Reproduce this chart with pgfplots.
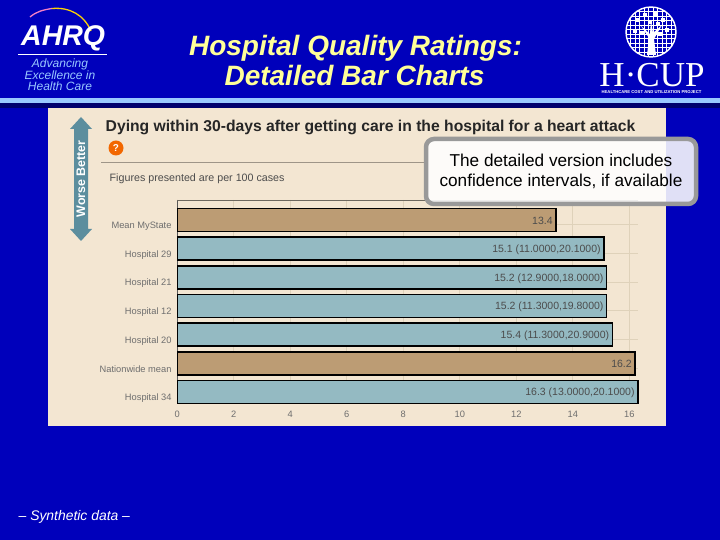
\documentclass[border=0pt]{standalone}
\usepackage{pgfplots}
\pgfplotsset{compat=1.18}
\usepackage{fontspec}
\setmainfont{Liberation Sans}
\newfontfamily\seriff{Liberation Serif}
\definecolor{bgblue}{HTML}{0000BB}
\definecolor{band}{HTML}{99C8FF}
\definecolor{navy}{HTML}{00006E}
\definecolor{panel}{HTML}{F3E6D2}
\definecolor{gridc}{HTML}{DFD2BA}
\definecolor{barblue}{HTML}{94BAC2}
\definecolor{bartan}{HTML}{BC9C74}
\definecolor{teal2}{HTML}{5C8E9E}
\definecolor{ttl}{HTML}{FFFF99}
\definecolor{lab}{HTML}{6E6E6E}
\definecolor{lblue}{HTML}{99C8FF}
\newcommand{\fs}[1]{\fontsize{#1}{#1}\selectfont}
\begin{document}
\begin{tikzpicture}
\useasboundingbox (0,0) rectangle (720pt,540pt);
\begin{scope}[x=1pt,y=-1pt,yshift=540pt]
\fill[bgblue] (0,0) rectangle (720,540);
\fill[band] (0,98) rectangle (720,103);
\fill[navy] (0,103) rectangle (720,108);
\fill[panel] (48,108) rectangle (666,426);
% AHRQ logo
\draw[line width=1.3pt,magenta!50!white] (30,17) .. controls (36,12) and (42,10) .. (52,8.5);
\draw[line width=1.3pt,yellow!70!orange] (52,8.5) .. controls (70,7) and (84,15) .. (91,31);
\node[anchor=base west,inner sep=0pt,text=white] at (21,45.5) {\fs{28.5}\bfseries\itshape AHRQ};
\draw[white,line width=1pt] (18,54.5) -- (107,54.5);
\node[anchor=base,text=lblue,inner sep=0pt] at (60,67.3) {\fs{12}\itshape Advancing};
\node[anchor=base,text=lblue,inner sep=0pt] at (60,79.3) {\fs{12}\itshape Excellence in};
\node[anchor=base,text=lblue,inner sep=0pt] at (60,90.7) {\fs{12}\itshape Health Care};
% title
\node[anchor=base,text=ttl,inner sep=0pt] at (355.5,55.7) {\fs{28}\bfseries\itshape Hospital Quality Ratings:};
\node[anchor=base,text=ttl,inner sep=0pt] at (354.5,85.7) {\fs{28}\bfseries\itshape Detailed Bar Charts};
% HCUP logo
\begin{scope}
\clip (651,32) circle (25);
\foreach \v in {626,630.5,...,676} \draw[white,line width=.7pt] (\v,5) -- (\v,58);
\foreach \v in {7,11.5,...,58} \draw[white,line width=.7pt] (625,\v) -- (677,\v);
\fill[white] (647,55) -- (649,38) -- (641,26) -- (650,34) -- (651,20) -- (653,33) -- (662,25) -- (654,39) -- (656,55) -- cycle;
\foreach \p/\q in {638/20,645/15,655/14,663/20,667/30,635/31,660/34,642/33,650/22,658/24}
  \fill[white] (\p-1.8,\q-1.8) rectangle (\p+1.8,\q+1.8);
\end{scope}
\draw[white,line width=1.4pt] (651,32) circle (25);
\node[anchor=base,text=white,inner sep=0pt] at (652,86.5) {\seriff\fs{35}H·CUP};
\node[anchor=base,text=white,inner sep=0pt] at (651.5,93.8) {\fs{4.2}\bfseries HEALTHCARE COST AND UTILIZATION PROJECT};
% panel decorations
\fill[teal2] (81,117) -- (92,129) -- (88,129) -- (88,229) -- (92,229) -- (81,241) -- (70,229) -- (74,229) -- (74,129) -- (70,129) -- cycle;
\node[text=white,rotate=90,inner sep=0pt] at (81,179) {\fs{12.4}\bfseries Worse Better};
\node[anchor=base west,inner sep=0pt,text=black!85] at (105.5,131.7) {\fs{15.7}\bfseries Dying within 30-days after getting care in the hospital for a heart attack};
\fill[orange!85!red!95!black] (116,148) circle (7.5);
\node[text=white,inner sep=0pt] at (116,148) {\fs{10}\bfseries ?};
\draw[black!35!panel,line width=.8pt] (101,162.5) -- (426,162.5);
\node[anchor=base west,inner sep=0pt,text=black!70] at (109.5,182) {\fs{10.7}Figures presented are per 100 cases};
\end{scope}
\begin{axis}[
  at={(177.3pt,136pt)},anchor=south west,
  scale only axis,width=460.5pt,height=204pt,
  xmin=0,xmax=16.3,ymin=-0.7,ymax=6.42,y dir=reverse,
  axis y line*=left,axis x line*=bottom,
  axis line style={-},
  y axis line style={line width=1.6pt,draw=black!65},
  x axis line style={draw=none},
  grid=major,grid style={gridc,line width=.7pt},
  xtick={0,2,...,16},
  ytick={0.16,1.16,2.16,3.16,4.16,5.16,6.16},
  yticklabels={Mean MyState,Hospital 29,Hospital 21,Hospital 12,Hospital 20,Nationwide mean,Hospital 34},
  tick style={draw=none},
  tick label style={font=\fs{9.3},text=lab},
  /pgf/number format/assume math mode=true,
  xticklabel style={yshift=-3.5pt},
  yticklabel style={xshift=2pt,yshift=-1.5pt},
  xbar,bar shift=0pt,bar width=23pt,
  point meta=explicit symbolic,
  nodes near coords,
  nodes near coords style={anchor=east,font=\fs{10.5},text=black!70,inner xsep=2.5pt,yshift=-1pt},
  clip=false,
]
\addplot[draw=black,line width=1.5pt,fill=bartan] coordinates {
  (13.4,0) [13.4]
  (16.2,5) [16.2]
};
\addplot[draw=black,line width=1.5pt,fill=barblue] coordinates {
  (15.1,1) [15.1 (11.0000,20.1000)]
  (15.2,2) [15.2 (12.9000,18.0000)]
  (15.2,3) [15.2 (11.3000,19.8000)]
  (15.4,4) [15.4 (11.3000,20.9000)]
  (16.3,6) [16.3 (13.0000,20.1000)]
};
\draw[black!55!panel,line width=.8pt] (rel axis cs:0,1) -- (rel axis cs:1,1);
\end{axis}
\begin{scope}[x=1pt,y=-1pt,yshift=540pt]
\fill[white,fill opacity=.88] (426,139) [rounded corners=7pt] rectangle (696,204);
\draw[black!40,line width=4.5pt,rounded corners=8pt] (426,139) rectangle (696,204);
\node[anchor=base,text=black,inner sep=0pt] at (561,166.7) {\fs{17.2}The detailed version includes};
\node[anchor=base,text=black,inner sep=0pt] at (561,186.7) {\fs{17.2}confidence intervals, if available};
\node[anchor=base west,text=white,inner sep=0pt] at (18.5,521) {\fs{13.9}\itshape -- Synthetic data --};
\end{scope}
\end{tikzpicture}
\end{document}
